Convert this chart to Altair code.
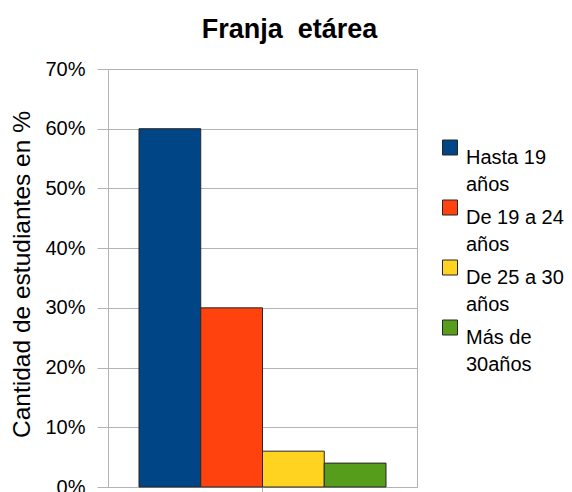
import altair as alt
import pandas as pd

categories = ["Hasta 19 años", "De 19 a 24 años", "De 25 a 30 años", "Más de 30años"]
values = [0.60, 0.30, 0.06, 0.04]
colors = ["#004586", "#ff420e", "#ffd320", "#579d1c"]
y_ticks = [0.0, 0.1, 0.2, 0.3, 0.4, 0.5, 0.6, 0.7]

df = pd.DataFrame({"grupo": ["Franja"] * len(categories), "rango": categories, "valor": values})

FONT = "Liberation Sans"
GRID = "#b3b3b3"

chart = alt.Chart(df).mark_bar(stroke="#262626", strokeWidth=1).encode(
    x=alt.X("grupo:N", title=None,
            scale=alt.Scale(paddingInner=0, paddingOuter=0.1255),
            axis=alt.Axis(labels=False, ticks=True, tickSize=8, tickColor=GRID,
                          domainColor=GRID, grid=False)),
    xOffset=alt.XOffset("rango:N", sort=categories,
                        scale=alt.Scale(paddingInner=0, paddingOuter=0)),
    y=alt.Y("valor:Q", title="Cantidad de estudiantes en %",
            scale=alt.Scale(domain=[0, 0.7], nice=False),
            axis=alt.Axis(values=y_ticks, format=".0%", labelFontSize=20, labelColor="#000000",
                          labelFont=FONT, tickSize=11, labelPadding=12, tickColor=GRID,
                          domainColor=GRID, gridColor=GRID,
                          titleFontSize=24.5, titleFont=FONT, titleFontWeight="normal",
                          titleColor="#000000", titleX=-86, titleY=205, titleAngle=270,
                          titleAlign="center", titleBaseline="middle")),
    color=alt.Color("rango:N", scale=alt.Scale(domain=categories, range=colors),
                    legend=alt.Legend(title=None, orient="none", legendX=332, legendY=68.5,
                                      padding=0, symbolType="square", symbolSize=225,
                                      symbolStrokeColor="#262626", symbolStrokeWidth=1,
                                      labelFontSize=20, labelFont=FONT, labelColor="#000000",
                                      labelBaseline="top", labelOffset=6, labelLimit=300,
                                      rowPadding=3,
                                      labelExpr="[slice(datum.label, 0, lastindexof(datum.label, ' ')), slice(datum.label, lastindexof(datum.label, ' ') + 1)]")),
).properties(
    width=309,
    height=418,
    autosize=alt.AutoSizeParams(type="none"),
    padding={"left": 100, "top": 61, "right": 147, "bottom": 20},
    title=alt.TitleParams("Franja\u00a0\u00a0etárea", fontSize=27, font=FONT, fontWeight="bold",
                          color="#000000", anchor="middle", dx=27, offset=15),
).configure(style={"guide-label": {"lineHeight": 27}}).configure_view(stroke=GRID)

chart.save("out.html", embed_options={"renderer": "svg", "actions": False})
